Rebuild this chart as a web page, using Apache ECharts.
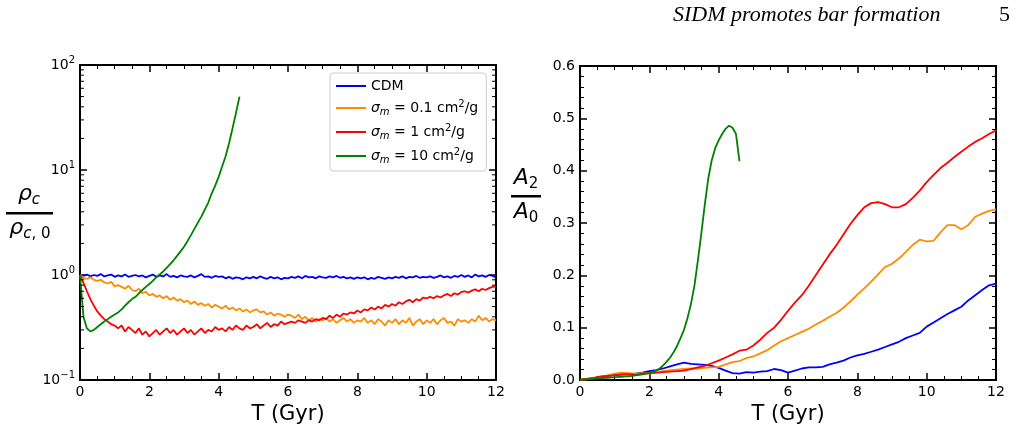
<!DOCTYPE html>
<html>
<head>
<meta charset="UTF-8">
<title>SIDM promotes bar formation</title>
<script src="https://cdn.jsdelivr.net/npm/echarts@6/dist/echarts.min.js"></script>
<style>
html,body{margin:0;padding:0;background:#fff;}
#chart{width:1017px;height:431px;}
</style>
</head>
<body>
<div id="chart"></div>
<script>
// central density, one sample every 0.1 Gyr from T = 0
var rhoStep = 0.1;
var rhoCDM = [1.00,0.98,1.01,0.97,1.00,0.98,1.02,0.97,0.99,1.01,0.96,
	0.99,0.97,1.01,0.96,0.98,1.00,0.97,0.99,0.95,0.98,
	1.01,0.96,0.99,0.97,1.02,0.96,0.98,0.95,0.99,0.97,
	0.96,0.99,0.95,0.98,1.02,0.96,0.97,0.94,0.98,0.96,
	0.97,0.93,0.96,0.92,0.95,0.94,0.91,0.95,0.93,0.96,
	0.93,0.97,0.94,0.92,0.96,0.93,0.95,0.91,0.94,0.93,
	0.96,0.94,0.97,0.93,0.98,0.95,0.96,0.93,0.97,0.95,
	0.94,0.97,0.95,0.98,0.94,0.96,0.93,0.95,0.92,0.95,
	0.93,0.95,0.91,0.94,0.92,0.96,0.94,0.92,0.95,0.93,
	0.96,0.94,0.97,0.93,0.96,0.95,0.98,0.94,0.96,0.95,
	0.97,0.94,0.96,0.99,0.95,0.97,0.94,0.98,0.96,1.00,
	0.96,0.99,0.95,1.01,0.97,0.99,0.96,1.00,0.98,0.95];
var rhoS01 = [1.00,0.94,0.92,0.95,0.90,0.88,0.90,0.85,0.83,0.86,0.78,
	0.80,0.77,0.74,0.79,0.72,0.70,0.74,0.67,0.69,0.64,
	0.66,0.62,0.64,0.60,0.63,0.58,0.61,0.57,0.59,0.55,
	0.57,0.53,0.56,0.52,0.54,0.51,0.53,0.49,0.52,0.50,
	0.48,0.51,0.47,0.49,0.46,0.48,0.45,0.47,0.44,0.46,
	0.47,0.44,0.45,0.42,0.44,0.41,0.43,0.42,0.40,0.42,
	0.41,0.39,0.42,0.38,0.40,0.37,0.39,0.36,0.38,0.37,
	0.39,0.36,0.38,0.35,0.37,0.39,0.36,0.38,0.35,0.37,
	0.36,0.39,0.35,0.37,0.34,0.38,0.36,0.33,0.37,0.35,
	0.38,0.34,0.37,0.35,0.39,0.33,0.36,0.38,0.34,0.37,
	0.35,0.38,0.34,0.37,0.39,0.35,0.36,0.33,0.38,0.36,
	0.37,0.35,0.38,0.36,0.41,0.37,0.39,0.36,0.38,0.37];
var rhoS1 = [1.00,0.84,0.70,0.59,0.51,0.45,0.41,0.38,0.36,0.34,0.33,
	0.31,0.33,0.29,0.32,0.30,0.28,0.31,0.27,0.29,0.26,
	0.28,0.30,0.27,0.29,0.31,0.28,0.30,0.27,0.29,0.31,
	0.28,0.30,0.27,0.29,0.31,0.28,0.30,0.29,0.32,0.30,
	0.31,0.29,0.32,0.30,0.33,0.31,0.30,0.33,0.31,0.32,
	0.34,0.31,0.33,0.35,0.32,0.34,0.33,0.36,0.34,0.35,
	0.36,0.35,0.37,0.36,0.35,0.37,0.36,0.38,0.37,0.39,
	0.38,0.41,0.39,0.42,0.40,0.43,0.42,0.44,0.43,0.46,
	0.44,0.47,0.46,0.49,0.47,0.50,0.48,0.52,0.50,0.53,
	0.51,0.55,0.53,0.56,0.58,0.55,0.59,0.57,0.61,0.60,
	0.62,0.60,0.63,0.61,0.64,0.66,0.63,0.67,0.65,0.69,
	0.70,0.68,0.71,0.73,0.70,0.74,0.72,0.75,0.77,0.78];
var rhoS10 = [1.00,0.40,0.31,0.29,0.30,0.32,0.34,0.36,0.38,0.40,
	0.42,0.44,0.47,0.51,0.55,0.59,0.62,0.67,0.72,0.77,
	0.82,0.88,0.95,1.01,1.08,1.17,1.27,1.38,1.52,1.68,
	1.86,2.10,2.40,2.75,3.15,3.60,4.20,4.90,6.00,7.10,
	8.60,10.8,13.5,18.0,25.0,35.0,50.0];

// bar strength A2/A0, one sample every 0.2 Gyr (0.1 Gyr for the fast 10 cm2/g run)
var a2Step = 0.2;
var a2CDM = [0.000,0.002,0.003,0.005,0.008,0.010,0.012,0.011,0.012,0.014,
	0.017,0.019,0.022,0.026,0.030,0.033,0.031,0.030,0.029,0.027,
	0.023,0.018,0.013,0.012,0.015,0.014,0.016,0.017,0.021,0.019,
	0.014,0.018,0.022,0.024,0.024,0.025,0.030,0.033,0.037,0.043,
	0.047,0.050,0.054,0.058,0.063,0.068,0.073,0.080,0.085,0.090,
	0.102,0.110,0.118,0.126,0.133,0.140,0.152,0.162,0.172,0.181,
	0.184];
var a2S01 = [0.000,0.002,0.004,0.006,0.009,0.012,0.014,0.013,0.012,0.013,
	0.012,0.014,0.017,0.019,0.020,0.021,0.022,0.022,0.023,0.024,
	0.025,0.030,0.034,0.036,0.042,0.045,0.051,0.057,0.066,0.074,
	0.080,0.086,0.092,0.098,0.106,0.113,0.121,0.128,0.138,0.150,
	0.163,0.175,0.188,0.202,0.216,0.222,0.232,0.245,0.258,0.268,
	0.265,0.266,0.282,0.296,0.296,0.288,0.296,0.312,0.318,0.323,
	0.326];
var a2S1 = [0.000,0.002,0.004,0.007,0.008,0.009,0.010,0.011,0.010,0.012,
	0.013,0.014,0.015,0.016,0.017,0.018,0.021,0.024,0.027,0.032,
	0.037,0.043,0.049,0.056,0.058,0.066,0.077,0.090,0.100,0.115,
	0.132,0.148,0.162,0.180,0.200,0.220,0.240,0.258,0.278,0.298,
	0.315,0.330,0.338,0.340,0.336,0.330,0.330,0.336,0.348,0.362,
	0.378,0.392,0.405,0.415,0.426,0.436,0.446,0.455,0.462,0.470,
	0.477];
var a2S10Step = 0.1;
var a2S10 = [0.000,0.001,0.001,0.002,0.002,0.003,0.003,0.004,0.004,0.005,
	0.005,0.006,0.006,0.007,0.007,0.008,0.009,0.010,0.011,0.012,
	0.013,0.015,0.018,0.022,0.028,0.035,0.043,0.053,0.065,0.080,
	0.096,0.118,0.145,0.180,0.228,0.280,0.335,0.385,0.420,0.443,
	0.458,0.470,0.480,0.486,0.482,0.470,0.418];

var logMinorTicks = [0.2,0.3,0.4,0.5,0.6,0.7,0.8,0.9,2,3,4,5,6,7,8,9,20,30,40,50,60,70,80,90];

var names = ['CDM','s01','s1','s10'];
var colors = ['#0000ff','#ff8c00','#ff0000','#008000'];
var legendText = {
	CDM: '{n|CDM}',
	s01: '{it|σ}{sub|m}{n| = 0.1 cm}{sup|2}{n|/g}',
	s1: '{it|σ}{sub|m}{n| = 1 cm}{sup|2}{n|/g}',
	s10: '{it|σ}{sub|m}{n| = 10 cm}{sup|2}{n|/g}'
};

var FONT = 'DejaVu Sans';

function pairs(vals, step) {
	return vals.map(function(v, i) { return [Math.round(i * step * 100) / 100, v]; });
}

function xAxis(grid, pos) {
	return {
		type: 'value', gridIndex: grid, position: pos, min: 0, max: 12, interval: 2,
		axisLine: {show: true, onZero: false, lineStyle: {color: '#000', width: 2}},
		axisTick: {show: true, inside: true, length: 7, lineStyle: {color: '#000', width: 1.5}},
		minorTick: {show: true, splitNumber: 4, length: 4, lineStyle: {color: '#000', width: 1}},
		axisLabel: {show: pos == 'bottom', color: '#000', fontSize: 14, fontFamily: FONT, margin: 5},
		splitLine: {show: false},
		name: pos == 'bottom' ? 'T (Gyr)' : '',
		nameLocation: 'middle', nameGap: 21,
		nameTextStyle: {color: '#000', fontSize: 21, fontFamily: FONT}
	};
}

function logAxis(pos) {
	return {
		type: 'log', logBase: 10, gridIndex: 0, position: pos, min: 0.1, max: 100,
		axisLine: {show: true, onZero: false, lineStyle: {color: '#000', width: 2}},
		axisTick: {show: true, inside: true, length: 7, lineStyle: {color: '#000', width: 1.5}},
		axisLabel: {
			show: pos == 'left', color: '#000', fontSize: 14, fontFamily: FONT, margin: 5,
			formatter: function(v) {
				var e = Math.round(Math.log10(v));
				return '{b|10}{sup|' + (e < 0 ? '\u2212' + (-e) : e) + '}';
			},
			rich: {
				b: {fontSize: 14, fontFamily: FONT, color: '#000', lineHeight: 20},
				sup: {fontSize: 10, fontFamily: FONT, color: '#000', lineHeight: 10, verticalAlign: 'top'}
			}
		},
		splitLine: {show: false}
	};
}

function linAxis(pos) {
	return {
		type: 'value', gridIndex: 1, position: pos, min: 0, max: 0.6, interval: 0.1,
		axisLine: {show: true, onZero: false, lineStyle: {color: '#000', width: 2}},
		axisTick: {show: true, inside: true, length: 7, lineStyle: {color: '#000', width: 1.5}},
		minorTick: {show: true, splitNumber: 5, length: 4, lineStyle: {color: '#000', width: 1}},
		axisLabel: {
			show: pos == 'left', color: '#000', fontSize: 14, fontFamily: FONT, margin: 5,
			formatter: function(v) { return v.toFixed(1); }
		},
		splitLine: {show: false}
	};
}

var rhoData = [rhoCDM, rhoS01, rhoS1, rhoS10];
var a2Data = [a2CDM, a2S01, a2S1, a2S10];
var a2Steps = [a2Step, a2Step, a2Step, a2S10Step];

var series = [];
names.forEach(function(n, k) {
	series.push({
		name: n, type: 'line', xAxisIndex: 0, yAxisIndex: 0, symbol: 'none',
		data: pairs(rhoData[k], rhoStep),
		lineStyle: {color: colors[k], width: 1.8}, itemStyle: {color: colors[k]}
	});
});
names.forEach(function(n, k) {
	series.push({
		name: n, type: 'line', xAxisIndex: 2, yAxisIndex: 2, symbol: 'none',
		data: pairs(a2Data[k], a2Steps[k]),
		lineStyle: {color: colors[k], width: 1.8}, itemStyle: {color: colors[k]}
	});
});
// minor ticks of the log axis (2..9 in each decade), on both sides of the left panel
series.push({
	type: 'custom', xAxisIndex: 0, yAxisIndex: 0, silent: true, z: 5,
	data: logMinorTicks.map(function(v) { return [0, v]; }),
	renderItem: function(params, api) {
		var v = api.value(1);
		var a = api.coord([0, v]), b = api.coord([12, v]);
		return {type: 'group', children: [
			{type: 'line', shape: {x1: a[0], y1: a[1], x2: a[0] + 4, y2: a[1]}, style: {stroke: '#000', lineWidth: 1}},
			{type: 'line', shape: {x1: b[0], y1: b[1], x2: b[0] - 4, y2: b[1]}, style: {stroke: '#000', lineWidth: 1}}
		]};
	}
});

var frac = {
	i: {fontSize: 22, fontFamily: FONT, fontStyle: 'italic', color: '#000', lineHeight: 28},
	si: {fontSize: 15, fontFamily: FONT, fontStyle: 'italic', color: '#000', lineHeight: 14, verticalAlign: 'bottom'},
	s: {fontSize: 15, fontFamily: FONT, color: '#000', lineHeight: 14, verticalAlign: 'bottom'}
};

var chart = echarts.init(document.getElementById('chart'));
chart.setOption({
	animation: false,
	backgroundColor: '#fff',
	grid: [
		{left: 80, right: 521, top: 65, bottom: 51},
		{left: 580, right: 21, top: 66, bottom: 51}
	],
	xAxis: [xAxis(0, 'bottom'), xAxis(0, 'top'), xAxis(1, 'bottom'), xAxis(1, 'top')],
	yAxis: [logAxis('left'), logAxis('right'), linAxis('left'), linAxis('right')],
	legend: {
		data: names, orient: 'vertical', left: 330, top: 73,
		padding: [6, 8, 6, 6], itemGap: 6, itemWidth: 30, itemHeight: 2, icon: 'rect',
		borderColor: '#cccccc', borderWidth: 1, borderRadius: 3, backgroundColor: '#fff',
		formatter: function(n) { return legendText[n]; },
		textStyle: {
			color: '#000', fontFamily: FONT, fontSize: 14,
			rich: {
				n: {fontSize: 14, fontFamily: FONT, color: '#000', lineHeight: 18},
				it: {fontSize: 14, fontFamily: FONT, fontStyle: 'italic', color: '#000', lineHeight: 18},
				sub: {fontSize: 10, fontFamily: FONT, fontStyle: 'italic', color: '#000', lineHeight: 10, verticalAlign: 'bottom'},
				sup: {fontSize: 10, fontFamily: FONT, color: '#000', lineHeight: 10, verticalAlign: 'top'}
			}
		}
	},
	graphic: [
		{type: 'text', left: 673, top: 4, style: {text: 'SIDM promotes bar formation', fontFamily: 'Liberation Serif', fontStyle: 'italic', fontSize: 22, fill: '#000'}},
		{type: 'text', left: 999, top: 4, style: {text: '5', fontFamily: 'Liberation Serif', fontSize: 22, fill: '#000'}},
		{type: 'text', x: 29, y: 194, style: {text: '{i|ρ}{si|c}', rich: frac, align: 'center', verticalAlign: 'middle'}},
		{type: 'rect', shape: {x: 6, y: 212, width: 47, height: 2.5}, style: {fill: '#000'}},
		{type: 'text', x: 30, y: 228, style: {text: '{i|ρ}{si|c}{s|, 0}', rich: frac, align: 'center', verticalAlign: 'middle'}},
		{type: 'text', x: 526, y: 178, style: {text: '{i|A}{s|2}', rich: frac, align: 'center', verticalAlign: 'middle'}},
		{type: 'rect', shape: {x: 511, y: 195, width: 30, height: 2.5}, style: {fill: '#000'}},
		{type: 'text', x: 526, y: 212, style: {text: '{i|A}{s|0}', rich: frac, align: 'center', verticalAlign: 'middle'}}
	],
	series: series
});
</script>
</body>
</html>
